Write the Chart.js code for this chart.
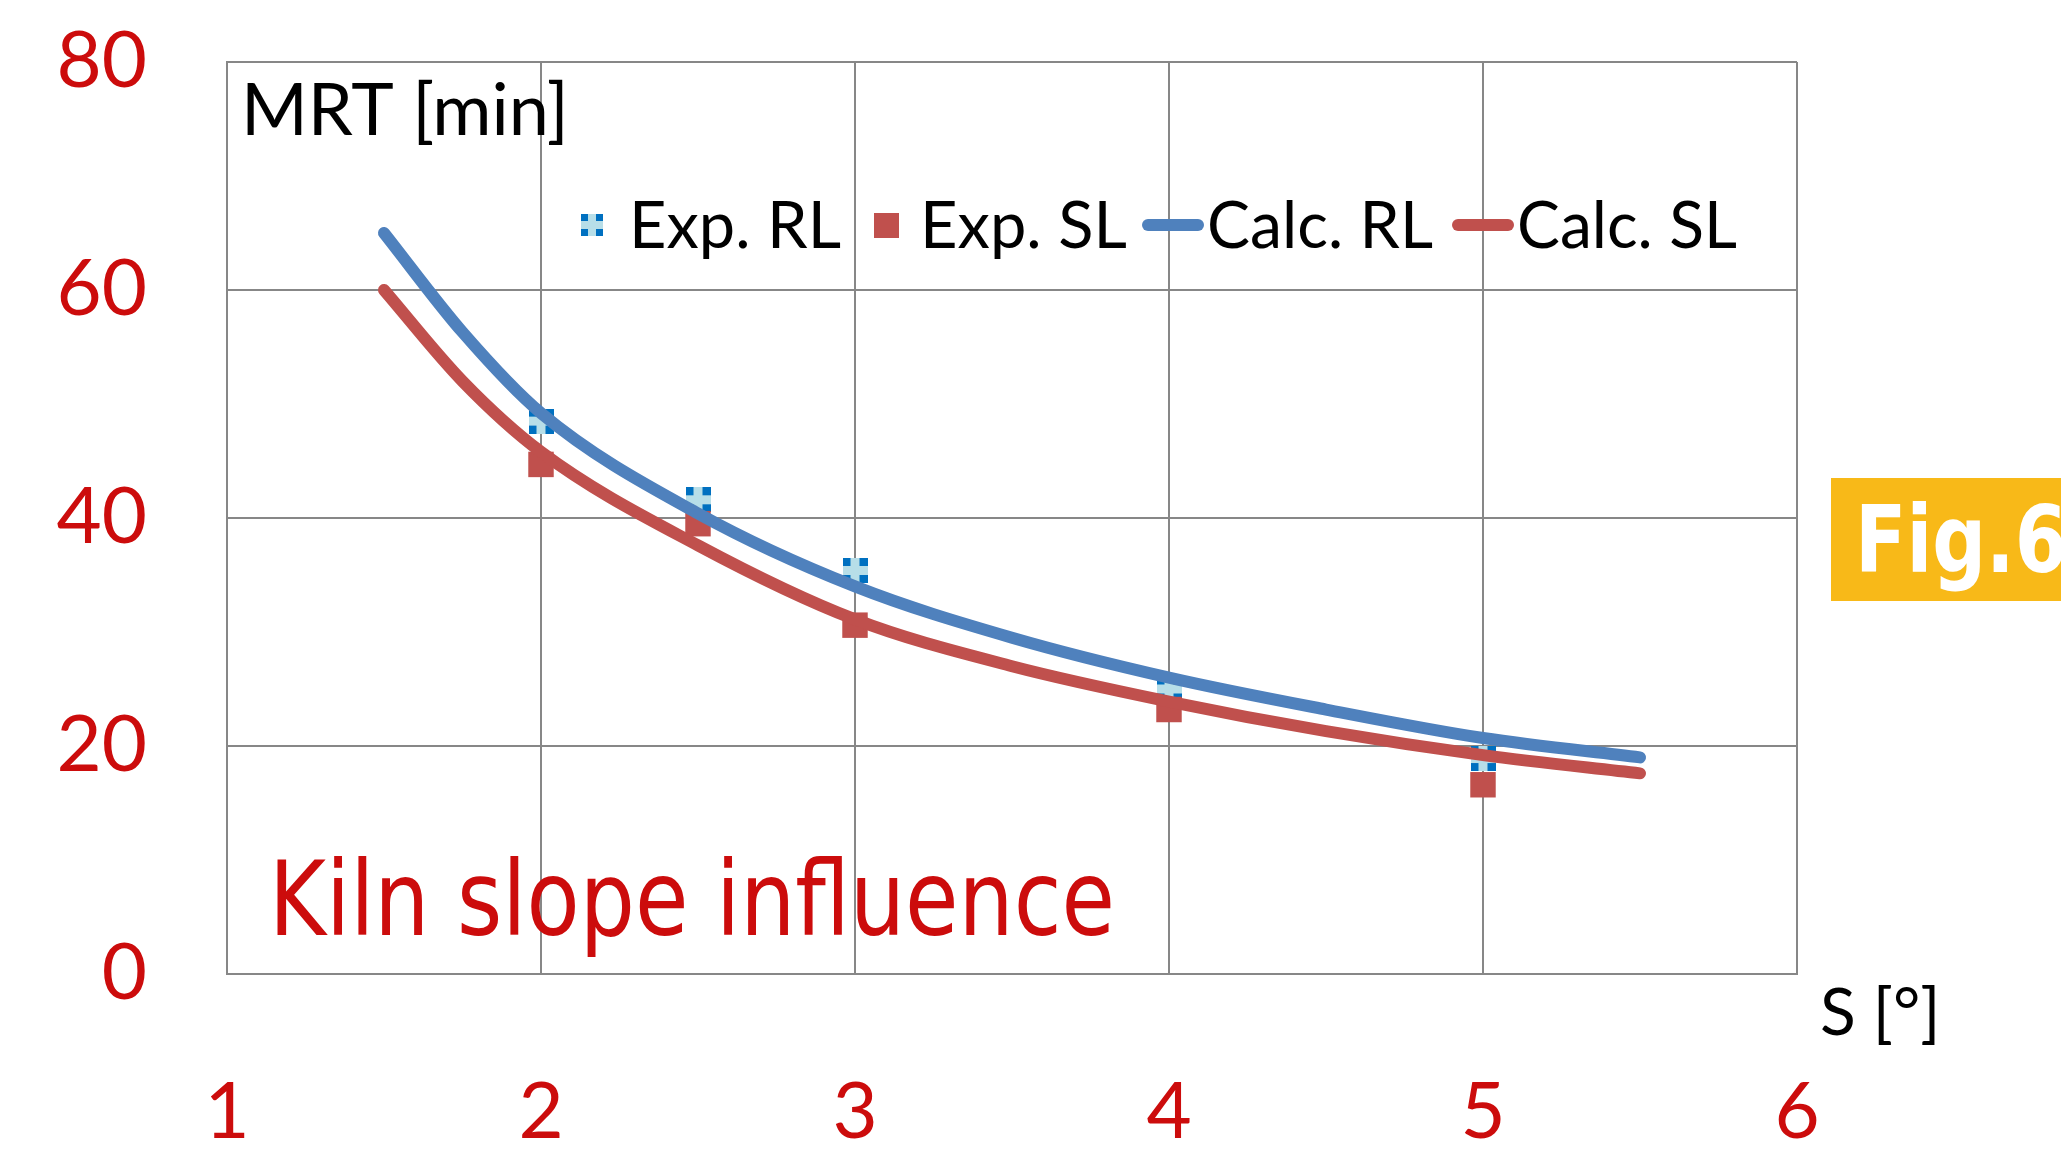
<!DOCTYPE html>
<html>
<head>
<meta charset="utf-8">
<script src="https://cdn.jsdelivr.net/npm/chart.js@4.4.1/dist/chart.umd.min.js"></script>
<style>
  html, body { margin: 0; padding: 0; background: #ffffff; }
  #wrap { width: 2061px; height: 1152px; }
</style>
</head>
<body>
<div id="wrap"><canvas id="c" width="2061" height="1152"></canvas></div>
<script>
// Kiln slope influence: mean residence time vs kiln slope

const sExp = [2, 2.5, 3, 4, 5];
const mrtExpRL = [48.5, 41.6, 35.4, 25.0, 18.9];
const mrtExpSL = [44.7, 39.5, 30.6, 23.2, 16.6];

const sCalc = [1.5, 1.75, 2, 2.5, 3, 3.5, 4, 4.5, 5, 5.5];
const mrtCalcRL = [65.0, 56.3, 49.2, 40.4, 34.0, 29.5, 26.0, 23.2, 20.7, 19.0];
const mrtCalcSL = [60.0, 52.0, 45.8, 37.6, 31.1, 27.0, 23.9, 21.3, 19.2, 17.6];

const xTicks = [1, 2, 3, 4, 5, 6];
const yTicks = [0, 20, 40, 60, 80];

const seriesNames = ['Exp. RL', 'Exp. SL', 'Calc. RL', 'Calc. SL'];

const BLUE = '#4f81bd';
const RED = '#c0504d';
const TICK_RED = '#cc0c0c';
const GRID = '#878787';

function pts(xs, ys) {
    return xs.map((x, i) => ({ x: x, y: ys[i] }));
}

// light blue square with blue corners (dashed-border look)
function rlMarker(size) {
    const c = document.createElement('canvas');
    c.width = c.height = size;
    const g = c.getContext('2d');
    g.fillStyle = '#b7dee8';
    g.fillRect(0, 0, size, size);
    g.fillStyle = '#0070c0';
    const k = Math.round(size * 0.3);
    [[0, 0], [size - k, 0], [0, size - k], [size - k, size - k]].forEach(([x, y]) => g.fillRect(x, y, k, k));
    return c;
}
const rlImg = rlMarker(25);
const rlLegendImg = rlMarker(22);

// draws text squeezed/stretched horizontally to a target width
function fitText(ctx, text, x, y, width) {
    const w = ctx.measureText(text).width;
    ctx.save();
    ctx.translate(x, y);
    ctx.scale(width / w, 1);
    ctx.fillText(text, 0, 0);
    ctx.restore();
}

const overlayText = {
    id: 'overlayText',
    afterDraw(chart) {
        const ctx = chart.ctx;
        ctx.save();

        // axis captions
        ctx.fillStyle = '#000';
        ctx.textBaseline = 'alphabetic';
        ctx.textAlign = 'left';
        ctx.font = '72px Lato';
        ctx.fillText('MRT [min]', 241, 135, 332);
        ctx.font = '66px Lato';
        ctx.fillText('S [°]', 1820, 1035, 128);

        // legend
        const ly = 225;
        ctx.font = '65px Lato';
        ctx.textBaseline = 'middle';
        ctx.drawImage(rlLegendImg, 592 - 11, ly - 11);
        ctx.fillText(seriesNames[0], 629, ly + 2, 212);
        ctx.fillStyle = RED;
        ctx.fillRect(874, ly - 12, 25, 25);
        ctx.fillStyle = '#000';
        ctx.fillText(seriesNames[1], 920, ly + 2, 208);
        ctx.lineCap = 'round';
        ctx.lineWidth = 12;
        ctx.strokeStyle = BLUE;
        ctx.beginPath(); ctx.moveTo(1148, ly); ctx.lineTo(1198, ly); ctx.stroke();
        ctx.fillText(seriesNames[2], 1207, ly + 2, 226);
        ctx.strokeStyle = RED;
        ctx.beginPath(); ctx.moveTo(1458, ly); ctx.lineTo(1508, ly); ctx.stroke();
        ctx.fillText(seriesNames[3], 1517, ly + 2, 220);

        // annotation
        ctx.textBaseline = 'alphabetic';
        ctx.fillStyle = TICK_RED;
        ctx.font = '103px "DejaVu Sans"';
        fitText(ctx, 'Kiln slope influence', 269, 935, 846);

        // figure badge
        ctx.fillStyle = '#f8b918';
        ctx.fillRect(1831, 478, 240, 123);
        ctx.fillStyle = '#ffffff';
        ctx.font = 'bold 92px "DejaVu Sans"';
        fitText(ctx, 'Fig.6', 1855, 572, 212);

        ctx.restore();
    }
};

const ctx = document.getElementById('c').getContext('2d');
new Chart(ctx, {
    type: 'scatter',
    data: {
        datasets: [
            {
                label: seriesNames[0],
                data: pts(sExp, mrtExpRL),
                pointStyle: rlImg,
                pointRadius: 12,
                showLine: false,
                order: 4
            },
            {
                label: seriesNames[1],
                data: pts(sExp, mrtExpSL),
                pointStyle: 'rect',
                pointRadius: 18,
                backgroundColor: RED,
                borderColor: RED,
                pointBorderWidth: 0,
                showLine: false,
                order: 3
            },
            {
                label: seriesNames[2],
                data: pts(sCalc, mrtCalcRL),
                showLine: true,
                borderColor: BLUE,
                borderWidth: 12,
                borderCapStyle: 'round',
                borderJoinStyle: 'round',
                cubicInterpolationMode: 'monotone',
                pointRadius: 0,
                order: 2
            },
            {
                label: seriesNames[3],
                data: pts(sCalc, mrtCalcSL),
                showLine: true,
                borderColor: RED,
                borderWidth: 12,
                borderCapStyle: 'round',
                borderJoinStyle: 'round',
                cubicInterpolationMode: 'monotone',
                pointRadius: 0,
                order: 1
            }
        ]
    },
    options: {
        responsive: false,
        animation: false,
        devicePixelRatio: 1,
        layout: { padding: { left: 0, top: 62, right: 264, bottom: 0 } },
        plugins: {
            legend: { display: false },
            tooltip: { enabled: false }
        },
        scales: {
            x: {
                type: 'linear',
                min: 1,
                max: 6,
                afterBuildTicks: s => { s.ticks = xTicks.map(v => ({ value: v })); },
                afterFit: s => { s.height = 178; },
                grid: { color: GRID, lineWidth: 2, drawTicks: false },
                border: { display: true, color: GRID, width: 2 },
                ticks: {
                    color: TICK_RED,
                    font: { family: 'Lato', size: 78 },
                    padding: 92,
                    maxRotation: 0
                }
            },
            y: {
                type: 'linear',
                min: 0,
                max: 80,
                afterBuildTicks: s => { s.ticks = yTicks.map(v => ({ value: v })); },
                // the tick padding would otherwise push the plot top down
                afterFit: s => { s.width = 227; s.paddingTop = 47; s.paddingBottom = 47; },
                grid: { color: GRID, lineWidth: 2, drawTicks: false },
                border: { display: true, color: GRID, width: 2 },
                ticks: {
                    color: TICK_RED,
                    font: { family: 'Lato', size: 78 },
                    padding: 80
                }
            }
        }
    },
    plugins: [overlayText]
});
</script>
</body>
</html>
